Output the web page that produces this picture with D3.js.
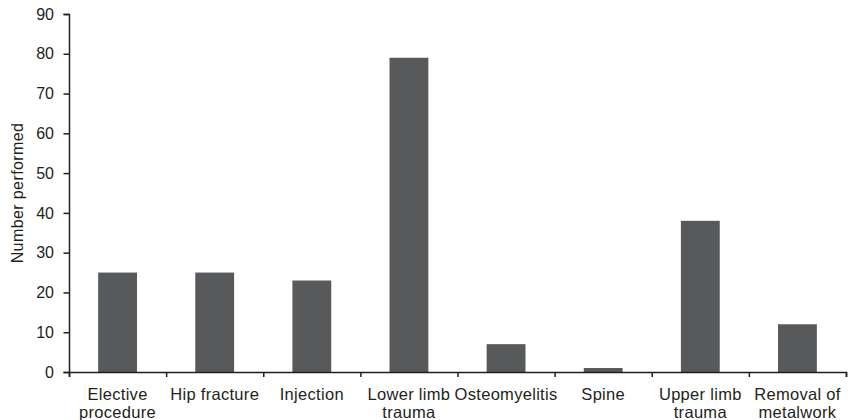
<!DOCTYPE html>
<html><head><meta charset="utf-8">
<script src="https://cdn.jsdelivr.net/npm/d3@7"></script>
<style>body{margin:0;background:#fff}svg{display:block}text{font-family:"Liberation Sans",Arial,sans-serif;fill:#231f20}</style>
</head><body><svg id="c" width="849" height="420"></svg>
<script>
const categories = [["Elective","procedure"],["Hip fracture"],["Injection"],["Lower limb","trauma"],["Osteomyelitis"],["Spine"],["Upper limb","trauma"],["Removal of","metalwork"]];
const values = [25,25,23,79,7,1,38,12];
const yTicks = [0,10,20,30,40,50,60,70,80,90];
const yTitle = "Number performed";

const svg = d3.select("#c");
const m = {l:69, r:3, t:14, b:48};
const W = 849, H = 420;
const x = d3.scaleBand().domain(d3.range(categories.length)).range([m.l, W-m.r]).paddingInner(0.6).paddingOuter(0.3);
const xt = d3.scaleLinear().domain([0, categories.length]).range([m.l, W-m.r]);
const y = d3.scaleLinear().domain([0,90]).range([H-m.b, m.t]);

svg.selectAll("rect.bar").data(values).join("rect").attr("class","bar")
  .attr("x",(d,i)=>x(i)).attr("width",x.bandwidth())
  .attr("y",d=>y(d)).attr("height",d=>y(0)-y(d)).attr("fill","#58595b");

const ya = svg.append("g").attr("transform",`translate(${m.l},0)`)
  .call(d3.axisLeft(y).tickValues(yTicks).tickSize(5.5).tickPadding(9.5));
ya.select(".domain").attr("stroke","#231f20").attr("stroke-width",1.5);
ya.selectAll(".tick line").attr("stroke","#231f20").attr("stroke-width",1.5);
ya.selectAll("text").style("font-size","16px").attr("fill","#231f20");

const xa = svg.append("g").attr("transform",`translate(0,${y(0)})`)
  .call(d3.axisBottom(xt).tickValues(d3.range(categories.length+1)).tickSize(5).tickFormat(""));
xa.select(".domain").attr("stroke","#231f20").attr("stroke-width",1.5);
xa.selectAll(".tick line").attr("stroke","#231f20").attr("stroke-width",1.5);

const lab = svg.append("g");
categories.forEach((c,i)=>{
  const t = lab.append("text").attr("text-anchor","middle").style("font-size","16.5px").style("letter-spacing","0.3px")
    .attr("x", x(i)+x.bandwidth()/2).attr("y", y(0)+28);
  c.forEach((s,j)=>t.append("tspan").attr("x", x(i)+x.bandwidth()/2).attr("dy", j?18:0).text(s));
});

svg.append("text").attr("transform",`translate(23,${(y(0)+y(90))/2}) rotate(-90)`)
  .attr("text-anchor","middle").style("font-size","16px").style("letter-spacing","0.4px").text(yTitle);
</script></body></html>
